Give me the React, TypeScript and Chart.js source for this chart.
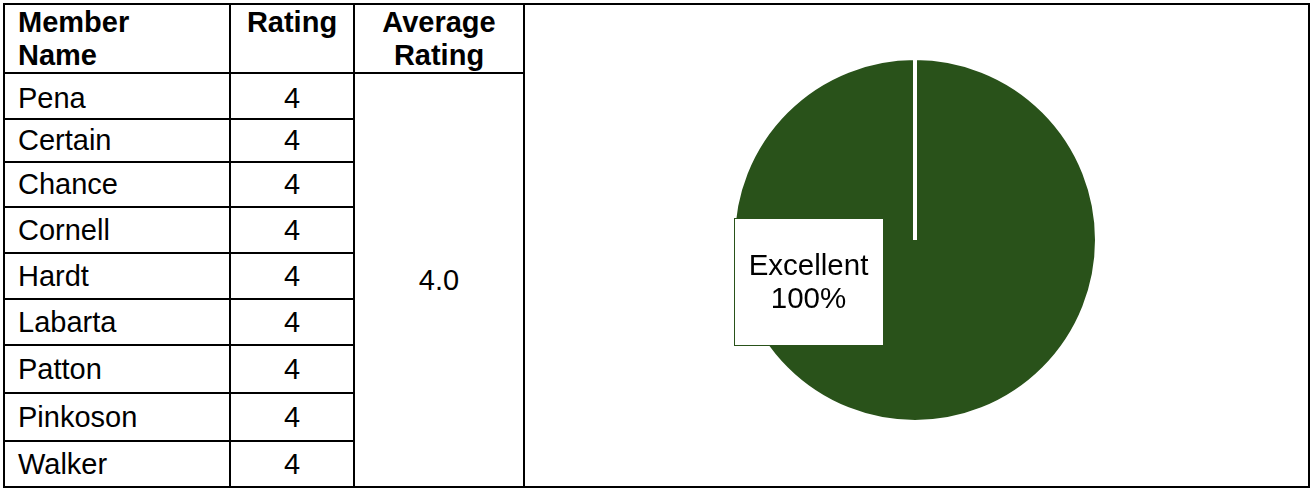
import React, { useEffect, useRef } from "react";
import { Chart, registerables } from "chart.js";

Chart.register(...registerables);

const memberNames = ["Pena", "Certain", "Chance", "Cornell", "Hardt", "Labarta", "Patton", "Pinkoson", "Walker"];
const memberRatings = [4, 4, 4, 4, 4, 4, 4, 4, 4];
const pieLabels = ["Excellent"];
const pieValues = [100];
const pieColors = ["#29521A"];

const FONT = '"Liberation Sans", Arial, sans-serif';
const FS = 29;

// layout grid (pixel positions)
const colX = [3, 229, 353, 523, 1308];
const rowY = [3, 72, 118, 161, 206, 252, 298, 344, 392, 440, 486];

const labelPlugin = {
  id: "boxLabel",
  afterDatasetsDraw(chart: any) {
    const meta = chart.getDatasetMeta(0);
    const arc = meta.data[0];
    if (!arc) return;
    const { x, y, outerRadius } = arc.getProps(["x", "y", "outerRadius"], true);
    const r = outerRadius;
    const cx = x - 0.585 * r;
    const cy = y + 0.23 * r;
    const w = 150;
    const h = 128;
    const ctx = chart.ctx;
    ctx.save();
    ctx.fillStyle = "#ffffff";
    ctx.fillRect(Math.round(cx - w / 2), Math.round(cy - h / 2), w, h);
    ctx.strokeStyle = "#29521A";
    ctx.lineWidth = 1;
    ctx.strokeRect(Math.round(cx - w / 2) + 0.5, Math.round(cy - h / 2) + 0.5, w - 1, h - 1);
    const total = pieValues.reduce((a, b) => a + b, 0);
    const pct = Math.round((pieValues[0] / total) * 100) + "%";
    ctx.fillStyle = "#000000";
    ctx.font = `${FS + 0.5}px ${FONT}`;
    ctx.textAlign = "center";
    ctx.textBaseline = "middle";
    ctx.fillText(pieLabels[0], cx, cy - 15);
    ctx.fillText(pct, cx, cy + 18);
    ctx.restore();
  },
};

function PieChart() {
  const ref = useRef<HTMLCanvasElement>(null);
  useEffect(() => {
    if (!ref.current) return;
    const chart = new Chart(ref.current, {
      type: "pie",
      data: {
        labels: pieLabels,
        datasets: [
          {
            data: pieValues,
            backgroundColor: pieColors,
            borderColor: "#ffffff",
            borderWidth: 4,
          },
        ],
      },
      options: {
        animation: false,
        responsive: false,
        maintainAspectRatio: false,
        layout: { padding: { top: 51, bottom: 62, left: 0, right: 3 } },
        plugins: { legend: { display: false }, tooltip: { enabled: false } },
      },
      plugins: [labelPlugin],
    });
    return () => chart.destroy();
  }, []);
  const left = colX[3] + 2;
  const top = rowY[0] + 2;
  const width = colX[4] - left;
  const height = rowY[rowY.length - 1] - top;
  return (
    <canvas
      ref={ref}
      width={width}
      height={height}
      style={{ position: "absolute", left, top, width, height }}
    />
  );
}

export default function App() {
  const avg = (memberRatings.reduce((a, b) => a + b, 0) / memberRatings.length).toFixed(1);
  const lines: React.ReactNode[] = [];
  const bottom = rowY[rowY.length - 1];
  lines.push(
    <div key="outer" style={{ position: "absolute", left: colX[0], top: rowY[0], width: colX[4] - colX[0] + 2, height: bottom - rowY[0] + 2, border: "2px solid #000", boxSizing: "border-box" }} />
  );
  [colX[1], colX[2], colX[3]].forEach((x, i) =>
    lines.push(<div key={"v" + i} style={{ position: "absolute", left: x, top: rowY[0], width: 2, height: bottom - rowY[0] + 2, background: "#000" }} />)
  );
  lines.push(<div key="hh" style={{ position: "absolute", left: colX[0], top: rowY[1], width: colX[3] - colX[0] + 2, height: 2, background: "#000" }} />);
  for (let i = 2; i < rowY.length - 1; i++) {
    lines.push(<div key={"h" + i} style={{ position: "absolute", left: colX[0], top: rowY[i], width: colX[2] - colX[0] + 2, height: 2, background: "#000" }} />);
  }

  const headStyle: React.CSSProperties = { position: "absolute", top: 6, fontFamily: FONT, fontSize: FS, fontWeight: "bold", lineHeight: "33px", color: "#000" };

  const cells: React.ReactNode[] = [];
  memberNames.forEach((name, i) => {
    const t = rowY[i + 1] + 2;
    const h = rowY[i + 2] - t;
    const shift = i === 0 ? 4 : 0;
    cells.push(
      <div key={"n" + i} style={{ position: "absolute", left: 18, top: t + shift, height: h - shift, display: "flex", alignItems: "center", fontFamily: FONT, fontSize: FS, color: "#000" }}>{name}</div>
    );
    cells.push(
      <div key={"r" + i} style={{ position: "absolute", left: colX[1] + 2, width: colX[2] - colX[1] - 2, top: t + shift, height: h - shift, display: "flex", alignItems: "center", justifyContent: "center", fontFamily: FONT, fontSize: FS, color: "#000" }}>{memberRatings[i]}</div>
    );
  });

  return (
    <div style={{ position: "absolute", left: 0, top: 0, width: 1311, height: 489, background: "#fff" }}>
      <div style={{ ...headStyle, left: 18 }}>Member<br />Name</div>
      <div style={{ ...headStyle, left: colX[1] + 2, width: colX[2] - colX[1] - 2, textAlign: "center" }}>Rating</div>
      <div style={{ ...headStyle, left: colX[2] + 2, width: colX[3] - colX[2] - 2, textAlign: "center" }}>Average<br />Rating</div>
      {cells}
      <div style={{ position: "absolute", left: colX[2] + 2, width: colX[3] - colX[2] - 2, top: rowY[1] + 2, height: bottom - rowY[1] - 2, display: "flex", alignItems: "center", justifyContent: "center", fontFamily: FONT, fontSize: FS, color: "#000" }}>{avg}</div>
      {lines}
      <PieChart />
    </div>
  );
}
